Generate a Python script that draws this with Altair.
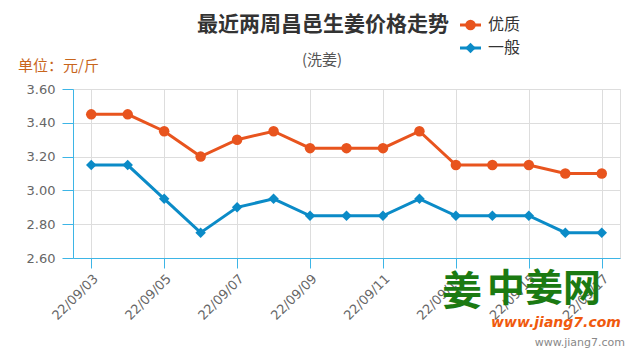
import altair as alt
import pandas as pd

# ---- data ----
dates = ["22/09/03", "22/09/04", "22/09/05", "22/09/06", "22/09/07", "22/09/08",
         "22/09/09", "22/09/10", "22/09/11", "22/09/12", "22/09/13", "22/09/14",
         "22/09/15", "22/09/16", "22/09/17"]
premium = [3.45, 3.45, 3.35, 3.20, 3.30, 3.35, 3.25, 3.25, 3.25, 3.35, 3.15, 3.15, 3.15, 3.10, 3.10]
ordinary = [3.15, 3.15, 2.95, 2.75, 2.90, 2.95, 2.85, 2.85, 2.85, 2.95, 2.85, 2.85, 2.85, 2.75, 2.75]
series_names = ["优质", "一般"]
series_colors = ["#e8541e", "#0b8bc7"]
series_shapes = ["circle", "diamond"]
y_ticks = [2.6, 2.8, 3.0, 3.2, 3.4, 3.6]
x_label_dates = dates[::2]

title_text = "最近两周昌邑生姜价格走势"
subtitle_text = "(洗姜)"
unit_text = "单位：元/斤"
logo_main = "中姜网"
logo_url = "www.jiang7.com"
credit_text = "www.jiang7.com"

df = pd.DataFrame({
    "date": dates * 2,
    "price": premium + ordinary,
    "series": [series_names[0]] * len(dates) + [series_names[1]] * len(dates),
})

W, H = 547, 169
AXIS_BLUE = "#3db5e6"
CJK = "Noto Sans CJK SC"

color = alt.Color("series:N", scale=alt.Scale(domain=series_names, range=series_colors), legend=None)
shape = alt.Shape("series:N", scale=alt.Scale(domain=series_names, range=series_shapes), legend=None)

x_enc = alt.X("date:O", sort=dates,
              scale=alt.Scale(type="point", domain=dates, padding=0.5),
              axis=alt.Axis(values=x_label_dates, labelAngle=-45, title=None,
                            labelFontSize=13, labelColor="#666666", labelFont="DejaVu Sans",
                            tickSize=10, tickColor=AXIS_BLUE, domainColor=AXIS_BLUE,
                            grid=True, gridColor="#dddddd", labelPadding=4,
                            labelOverlap=False))
y_enc = alt.Y("price:Q",
              scale=alt.Scale(domain=[2.6, 3.6], nice=False, zero=False),
              axis=alt.Axis(values=y_ticks, format=".2f", title=None,
                            labelFontSize=13, labelColor="#666666", labelFont="DejaVu Sans",
                            tickSize=11, tickColor=AXIS_BLUE, domainColor=AXIS_BLUE,
                            grid=True, gridColor="#dddddd", labelPadding=7,
                            labelOverlap=False, labelBound=False))

base = alt.Chart(df).encode(x=x_enc, y=y_enc, color=color)
lines = base.mark_line(strokeWidth=3).encode(detail="series:N")
points = base.mark_point(filled=True, size=110, opacity=1).encode(shape=shape)


def text_layer(txt, x, y, size, col, weight="normal", align="center", font=CJK, style="normal"):
    return alt.Chart(pd.DataFrame({"t": [txt]})).mark_text(
        fontSize=size, color=col, fontWeight=weight, align=align, baseline="middle",
        font=font, fontStyle=style
    ).encode(text="t:N", x=alt.value(x), y=alt.value(y))


title = text_layer(title_text, 250, -64, 21, "#333333", weight="bold")
subtitle = text_layer(subtitle_text, 249, -29, 15, "#555555")
unit = text_layer(unit_text, -55, -23, 15, "#c8651c", align="left")

# custom legend
legend_layers = []
for i, (name, col, shp) in enumerate(zip(series_names, series_colors, series_shapes)):
    yy = -64 + 23 * i
    ldf = pd.DataFrame({"series": [name]})
    legend_layers.append(alt.Chart(ldf).mark_rule(strokeWidth=3, color=col).encode(
        x=alt.value(387), x2=alt.value(408), y=alt.value(yy)))
    legend_layers.append(alt.Chart(ldf).mark_point(filled=True, size=110, opacity=1, color=col, shape=shp).encode(
        x=alt.value(397.5), y=alt.value(yy)))
    legend_layers.append(alt.Chart(ldf).mark_text(fontSize=16, color="#333333", align="left",
                                                   baseline="middle", font=CJK).encode(
        text="series:N", x=alt.value(415), y=alt.value(yy)))

# watermark
logo_char = text_layer("姜", 389, 204, 40, "#1b7a12", weight="bold")
logo1 = text_layer(logo_main, 471, 201, 38, "#1b7a12", weight="bold")
logo2 = text_layer(logo_url, 483, 234, 14, "#f05a0e", weight="bold", style="italic", font="DejaVu Sans")
credit = text_layer(credit_text, 552, 254, 11, "#888888", align="right", font="DejaVu Sans")

chart = alt.layer(lines, points, title, subtitle, unit, *legend_layers,
                  logo_char, logo1, logo2, credit).properties(
    width=W, height=H,
    padding={"left": 65, "top": 81, "right": 12, "bottom": 94},
    autosize=alt.AutoSizeParams(type="none"),
).configure_view(stroke=None).configure_axis(labelOverlap=False).configure(background="white")

chart.save("out.html", embed_options={"renderer": "svg", "actions": False})
